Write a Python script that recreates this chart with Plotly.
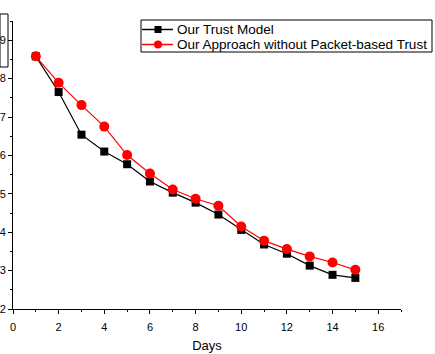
import plotly.graph_objects as go

days = [1, 2, 3, 4, 5, 6, 7, 8, 9, 10, 11, 12, 13, 14, 15]
trust_model = [8.58, 7.65, 6.54, 6.10, 5.77, 5.32, 5.03, 4.77, 4.46, 4.06, 3.68, 3.44, 3.13, 2.89, 2.81]
no_packet_trust = [8.58, 7.89, 7.31, 6.75, 6.01, 5.53, 5.11, 4.87, 4.69, 4.15, 3.78, 3.56, 3.37, 3.21, 3.02]
series_names = ["Our Trust Model", "Our Approach without Packet-based Trust"]
x_ticks = [0, 2, 4, 6, 8, 10, 12, 14, 16]
y_ticks = [2, 3, 4, 5, 6, 7, 8, 9]

W, H = 435, 354
L, R, T, B = 13, 34, 21, 45
pw, ph = W - L - R, H - T - B

def px(X):
    return (X - L) / pw

def py(Y):
    return (H - B - Y) / ph

BLACK = "black"
RED = "#ff0000"

fig = go.Figure()
fig.add_trace(go.Scatter(
    x=days, y=trust_model, mode="lines+markers", name=series_names[0],
    line=dict(color=BLACK, width=1.2),
    marker=dict(symbol="square", size=8, color=BLACK),
    showlegend=False,
))
fig.add_trace(go.Scatter(
    x=days, y=no_packet_trust, mode="lines+markers", name=series_names[1],
    line=dict(color=RED, width=1.2),
    marker=dict(symbol="circle", size=10, color=RED),
    showlegend=False,
))

FAM = "Arial, Liberation Sans, sans-serif"
fig.update_layout(
    width=W, height=H,
    margin=dict(l=L, r=R, t=T, b=B, autoexpand=False),
    paper_bgcolor="white", plot_bgcolor="white",
    font=dict(family=FAM, size=11, color="black"),
    showlegend=False,
    xaxis=dict(
        range=[0, 17], tickvals=x_ticks, ticks="outside", ticklen=4, tickwidth=1,
        tickcolor="black", showline=True, linecolor="black", linewidth=1,
        showgrid=False, zeroline=False, automargin=False,
        ticklabelstandoff=4,
        minor=dict(dtick=1, ticks="outside", ticklen=2, tickcolor="black", showgrid=False),
        title=dict(text="Days", font=dict(size=13), standoff=8),
    ),
    yaxis=dict(
        range=[2, 9.5], tickvals=y_ticks, ticks="outside", ticklen=4, tickwidth=1,
        tickcolor="black", showline=True, linecolor="black", linewidth=1,
        showgrid=False, zeroline=False, automargin=False,
        minor=dict(dtick=0.5, ticks="outside", ticklen=2, tickcolor="black", showgrid=False),
    ),
)

# cropped box at top-left
fig.add_shape(
    type="rect", xref="paper", yref="paper",
    x0=px(0), x1=px(8), y0=py(67), y1=py(14),
    line=dict(color="black", width=1), fillcolor="rgba(0,0,0,0)",
)

# legend box
fig.add_shape(
    type="rect", xref="paper", yref="paper",
    x0=px(141), x1=px(432), y0=py(52), y1=py(20),
    line=dict(color="black", width=1), fillcolor="white", layer="above",
)
rows = [(29.5, BLACK, "square", 7), (44.5, RED, "circle", 8)]
for (yc, col, sym, sz), name in zip(rows, series_names):
    fig.add_shape(type="line", xref="paper", yref="paper",
                  x0=px(142), x1=px(173), y0=py(yc), y1=py(yc),
                  line=dict(color=col, width=1.5), layer="above")
    h = sz / 2
    fig.add_shape(type="rect" if sym == "square" else "circle",
                  xref="paper", yref="paper",
                  x0=px(158 - h), x1=px(158 + h), y0=py(yc + h), y1=py(yc - h),
                  line=dict(color=col, width=0), fillcolor=col, layer="above")
    fig.add_annotation(x=px(175), y=py(yc), xref="paper", yref="paper",
                       text=name, showarrow=False, xanchor="left", yanchor="middle",
                       font=dict(family=FAM, size=13.5, color="black"))

fig.write_html("out.html")
